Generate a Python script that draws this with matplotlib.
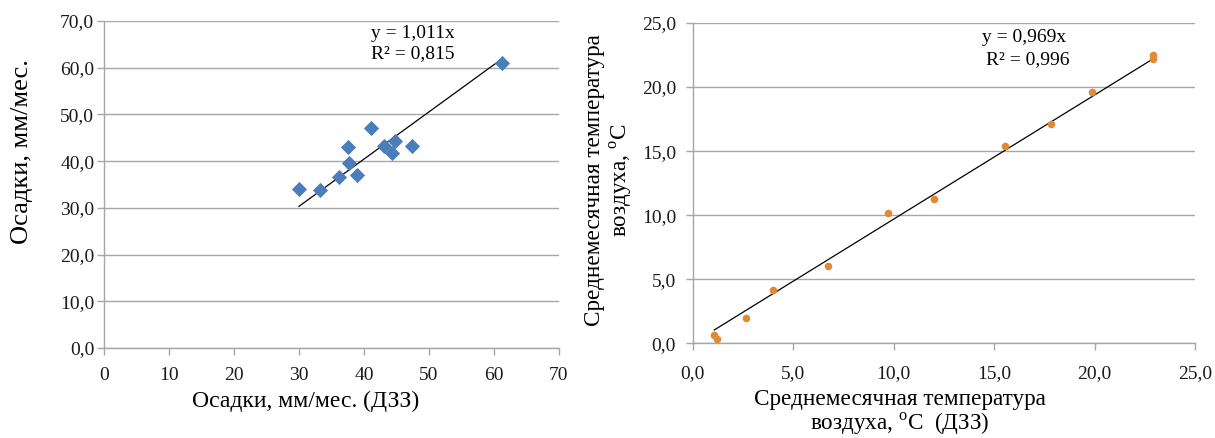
import matplotlib
matplotlib.use("Agg")
import matplotlib.pyplot as plt
import numpy as np

plt.rcParams['font.family'] = ['Liberation Serif', 'DejaVu Serif']
plt.rcParams['mathtext.fontset'] = 'custom'
plt.rcParams['mathtext.rm'] = 'Liberation Serif'

# Left chart: precipitation
precip_dzz = [30.0, 33.2, 36.2, 37.7, 37.5, 38.9, 41.1, 43.1, 44.3, 44.7, 47.4, 61.3]
precip_obs = [34.0, 33.8, 36.5, 39.5, 43.0, 37.0, 47.2, 43.3, 41.8, 44.3, 43.2, 61.0]
precip_slope = 1.011
precip_r2 = "0,815"
left_xticks = [0, 10, 20, 30, 40, 50, 60, 70]
left_yticks = [0, 10, 20, 30, 40, 50, 60, 70]

# Right chart: temperature
temp_dzz = [1.07, 1.19, 2.64, 3.98, 6.73, 9.70, 12.0, 15.54, 17.84, 19.85, 22.92, 22.92]
temp_obs = [0.62, 0.36, 1.99, 4.14, 6.0, 10.2, 11.24, 15.4, 17.14, 19.63, 22.53, 22.22]
temp_slope = 0.969
temp_r2 = "0,996"
right_ticks = [0, 5, 10, 15, 20, 25]

W, H = 1215, 438
fig = plt.figure(figsize=(W / 100, H / 100), dpi=100)

grid_c = '#a6a6a6'
tick_fs = 14

def style(ax):
    for s in ['top', 'right']:
        ax.spines[s].set_visible(False)
    for s in ['left', 'bottom']:
        ax.spines[s].set_color(grid_c)
        ax.spines[s].set_linewidth(1.0)
    ax.yaxis.grid(True, color=grid_c, linewidth=1.0)
    ax.set_axisbelow(True)
    ax.tick_params(colors=grid_c, labelcolor='#1a1a1a', length=5, width=1.0,
                   labelsize=tick_fs, direction='out')

def fmt_comma(v):
    return f"{v:.1f}".replace('.', ',')

# ---- Left axes
ax1 = fig.add_axes([104 / W, 1 - 348 / H, 455 / W, 327 / H])
style(ax1)
ax1.set_xlim(0, 70)
ax1.set_ylim(0, 70)
ax1.set_xticks(left_xticks)
ax1.set_xticklabels([str(v) for v in left_xticks])
ax1.set_yticks(left_yticks)
ax1.set_yticklabels([fmt_comma(v) for v in left_yticks])
ax1.tick_params(axis='x', pad=9)
ax1.tick_params(axis='y', pad=2)
ax1.scatter(precip_dzz, precip_obs, marker='D', s=60, color='#4a7ebb', zorder=3,
            linewidths=0)
xl = np.array([min(precip_dzz), max(precip_dzz)])
ax1.plot(xl, precip_slope * xl, color='black', linewidth=0.9, zorder=2)
ax1.text((370.7 - 104) / 455, (348 - 34) / 327, "y = 1,011x",
         transform=ax1.transAxes, fontsize=14, ha='left', va='center')
ax1.text((370.7 - 104) / 455, (348 - 54) / 327, "R² = " + precip_r2,
         transform=ax1.transAxes, fontsize=14, ha='left', va='center')
ax1.set_xlabel("Осадки, мм/мес. (ДЗЗ)", fontsize=17)
ax1.xaxis.set_label_coords((306 - 104) / 455, (348 - 401) / 327)
ax1.xaxis.label.set_va('center')
ax1.set_ylabel("Осадки, мм/мес.", fontsize=19)
ax1.yaxis.set_label_coords((22 - 104) / 455, (348 - 152) / 327)
ax1.yaxis.label.set_va('center')

# ---- Right axes
x0, x1r, y0, y1r = 692.7, 1195.0, 343.3, 23.0
ax2 = fig.add_axes([x0 / W, 1 - y0 / H, (x1r - x0) / W, (y0 - y1r) / H])
style(ax2)
ax2.set_xlim(0, 25)
ax2.set_ylim(0, 25)
ax2.set_xticks(right_ticks)
ax2.set_xticklabels([fmt_comma(v) for v in right_ticks])
ax2.set_yticks(right_ticks)
ax2.set_yticklabels([fmt_comma(v) for v in right_ticks])
ax2.tick_params(axis='x', pad=11)
ax2.tick_params(axis='y', pad=7)
ax2.scatter(temp_dzz, temp_obs, marker='o', s=30, color='#e08a35', zorder=3,
            linewidths=0)
xr = np.array([min(temp_dzz), max(temp_dzz)])
ax2.plot(xr, temp_slope * xr, color='black', linewidth=0.9, zorder=2)
aw, ah = x1r - x0, y0 - y1r
ax2.text((1024 - x0) / aw, (y0 - 37.5) / ah, "y = 0,969x",
         transform=ax2.transAxes, fontsize=14, ha='center', va='center')
ax2.text((1027.5 - x0) / aw, (y0 - 60) / ah, "R² = " + temp_r2,
         transform=ax2.transAxes, fontsize=14, ha='center', va='center')
ax2.set_xlabel("Среднемесячная температура\nвоздуха, $^{\\mathrm{o}}$C  (ДЗЗ)",
               fontsize=16.7, linespacing=1.05)
ax2.xaxis.set_label_coords((900 - x0) / aw, (y0 - 413) / ah)
ax2.xaxis.label.set_va('center')
ax2.set_ylabel("Среднемесячная температура\nвоздуха, $^{\\mathrm{o}}$C",
               fontsize=16.7, linespacing=1.15)
ax2.yaxis.set_label_coords((609 - x0) / aw, (y0 - 180) / ah)
ax2.yaxis.label.set_va('center')

fig.savefig("out.png", dpi=100, facecolor='white')
